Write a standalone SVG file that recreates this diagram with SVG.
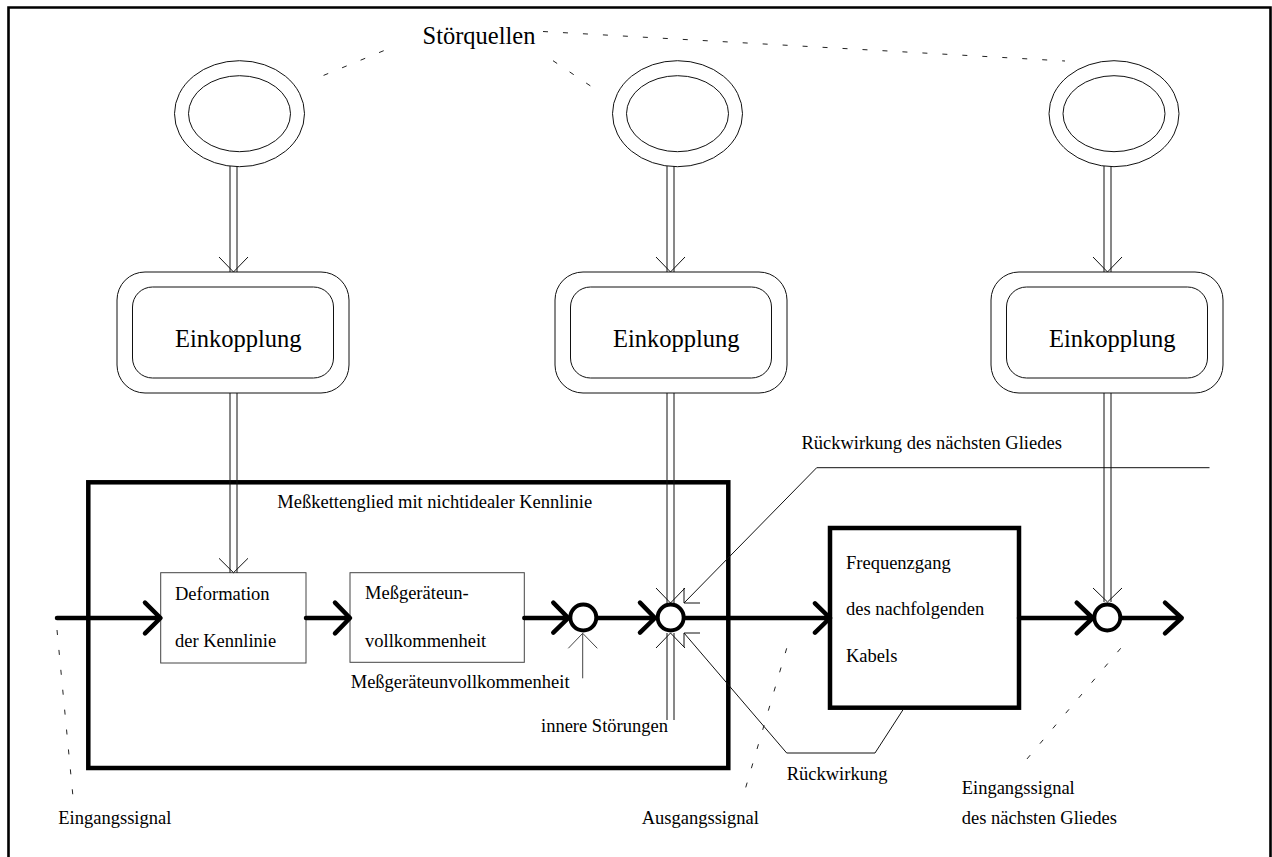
<svg xmlns="http://www.w3.org/2000/svg" width="1272" height="857" viewBox="0 0 1272 857">
<style>
text{font-family:"Liberation Serif","Times New Roman",serif;fill:#000}
.big{font-size:24.5px}
.lbl{font-size:18.5px}
.thin{fill:none;stroke:#111;stroke-width:1}
.gray{fill:none;stroke:#444;stroke-width:1}
.thick{fill:none;stroke:#000;stroke-width:4.5;stroke-linecap:round;stroke-linejoin:round}
.heavy{fill:none;stroke:#000;stroke-width:4.5}
.dash{fill:none;stroke:#222;stroke-width:1;stroke-dasharray:5 15}
.box{fill:#fff;stroke:#444;stroke-width:1}
.circ{fill:#fff;stroke:#000;stroke-width:4}
</style>
<rect width="1272" height="857" fill="#fff"/>
<path d="M8.5,870 V7.5 H1270.5 V870" fill="none" stroke="#000" stroke-width="2.6"/>

<g id="stoerquellen">
<text class="big" x="422.5" y="44">Störquellen</text>
</g>
<g id="src1"><ellipse class="thin" cx="239.5" cy="113.7" rx="65" ry="53"/><ellipse class="thin" cx="239.5" cy="113.7" rx="51" ry="38"/></g>
<g id="src2"><ellipse class="thin" cx="677.5" cy="113.7" rx="65" ry="53"/><ellipse class="thin" cx="677.5" cy="113.7" rx="51" ry="38"/></g>
<g id="src3"><ellipse class="thin" cx="1114" cy="113.7" rx="65" ry="53"/><ellipse class="thin" cx="1114" cy="113.7" rx="51" ry="38"/></g>

<g id="ek1"><rect class="thin" x="117" y="272" width="232" height="121" rx="28"/><rect class="thin" x="132.5" y="287" width="201" height="91" rx="20"/><text class="big" x="175" y="346.5">Einkopplung</text></g>
<g id="ek2"><rect class="thin" x="555" y="272" width="232" height="121" rx="28"/><rect class="thin" x="570.5" y="287" width="201" height="91" rx="20"/><text class="big" x="613" y="346.5">Einkopplung</text></g>
<g id="ek3"><rect class="thin" x="991" y="272" width="232" height="121" rx="28"/><rect class="thin" x="1006.5" y="287" width="201" height="91" rx="20"/><text class="big" x="1049" y="346.5">Einkopplung</text></g>

<g id="glied">
<rect class="heavy" x="88.3" y="482.3" width="640" height="285.7" fill="none"/>
<text class="lbl" x="277.3" y="508">Meßkettenglied mit nichtidealer Kennlinie</text>
</g>
<g id="deformation"><rect class="box" x="160.7" y="572.7" width="145.3" height="90.3"/><text class="lbl" x="175" y="600">Deformation</text><text class="lbl" x="175" y="646.5">der Kennlinie</text></g>
<g id="messgeraet"><rect class="box" x="350" y="572.7" width="174.3" height="89.6"/><text class="lbl" x="365" y="599">Meßgeräteun-</text><text class="lbl" x="365" y="647">vollkommenheit</text></g>
<g id="kabel"><rect class="heavy" x="830" y="528" width="189" height="179.7" fill="#fff"/><text class="lbl" x="846" y="569">Frequenzgang</text><text class="lbl" x="846" y="614.5">des nachfolgenden</text><text class="lbl" x="846" y="661.5">Kabels</text></g>

<g id="connectors">
<path class="dash" d="M383.7,50.7 L320.4,76.7"/>
<path class="dash" d="M553,60.7 L594,88.3"/>
<path class="dash" d="M543,31.5 L1065,61"/>
<path class="dash" d="M57,630 L73,797"/>
<path class="dash" d="M786.7,648.3 L744,793.3"/>
<path class="dash" d="M1120.7,648.3 L1023.3,763.3"/>
<path class="thin" d="M230,166 V272 M237,166 V272 M219,257 L233.5,272 L248,257"/>
<path class="thin" d="M667,166 V272 M674,166 V272 M656,257 L670.5,272 L685,257"/>
<path class="thin" d="M1104,166 V272 M1111,166 V272 M1093,257 L1107.5,272 L1122,257"/>
<path class="thin" d="M230,393 V572.7 M237,393 V572.7 M219,558.3 L233.5,572.7 L248,558.3"/>
<path class="thin" d="M667,393 V603 M674,393 V603 M656,588 L670.5,603 L685,588"/>
<path class="thin" d="M1104,393 V602 M1111,393 V602 M1093,588 L1107.5,602 L1122,588"/>
<path class="thin" d="M667,633 V720 M674,633 V720 M656,648 L670.5,633 L685,648"/>
<path class="gray" d="M582.7,678.3 V633.3 M568.3,648.3 L582.7,633.3 L597.3,648.3"/>
<path class="thin" d="M1209.5,467.7 H816.7 L684,603 M684,588 V603 H700"/>
<path class="thin" d="M903.3,709.3 L875,753 H786.7 L684,633 M684,647 V633 H700"/>
<path class="thick" d="M57,618 H160 M145,602.7 L160.5,618 L145,633.3"/>
<path class="thick" d="M306,618 H349.5 M335,602.7 L350,618 L335,633.3"/>
<path class="thick" d="M524.3,618 H568 M553.3,602.7 L568.3,618 L553.3,632.7"/>
<path class="thick" d="M597,618 H655 M640,602.7 L655,618 L640,632.7"/>
<path class="thick" d="M686,618 H829 M815,603.3 L830,618 L815,632.7"/>
<path class="thick" d="M1019,618 H1092 M1076.7,602.7 L1092.7,618 L1076.7,633.3"/>
<path class="thick" d="M1122,618 H1181.7 M1165,602.7 L1181.7,618 L1165,633.3"/>
</g>
<g id="junctions">
<circle class="circ" cx="583.3" cy="617.5" r="13"/>
<circle class="circ" cx="670.7" cy="617.5" r="13"/>
<circle class="circ" cx="1107.3" cy="617.5" r="13"/>
</g>
<g id="labels">
<text class="lbl" x="541" y="732">innere Störungen</text>
<text class="lbl" x="350.7" y="688">Meßgeräteunvollkommenheit</text>
<text class="lbl" x="801.4" y="449">Rückwirkung des nächsten Gliedes</text>
<text class="lbl" x="786.7" y="780">Rückwirkung</text>
<text class="lbl" x="641.7" y="824">Ausgangssignal</text>
<text class="lbl" x="58.3" y="824">Eingangssignal</text>
<text class="lbl" x="961.7" y="794">Eingangssignal</text>
<text class="lbl" x="961.7" y="824">des nächsten Gliedes</text>
</g>
</svg>
